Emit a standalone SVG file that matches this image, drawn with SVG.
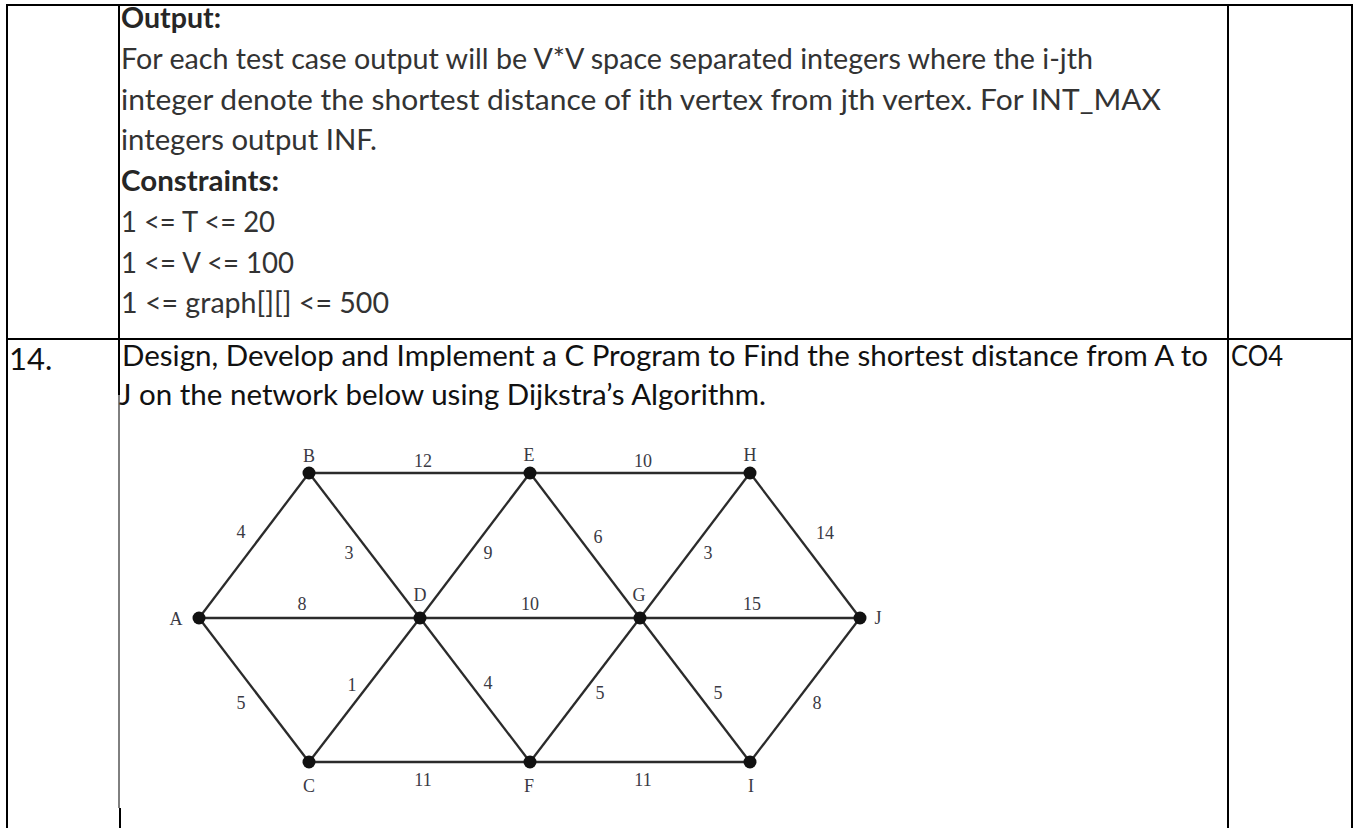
<svg xmlns="http://www.w3.org/2000/svg" width="1356" height="828" viewBox="0 0 1356 828">
<style>
.t{font-family:Lato,"Liberation Sans",sans-serif;font-size:28px;fill:#333}
.t2{font-family:Lato,"Liberation Sans",sans-serif;font-size:28px;fill:#111}
.b{font-weight:bold;fill:#262626}
.lbl{font-family:"Liberation Serif","DejaVu Serif",serif;font-size:18px;fill:#3a3a44;text-anchor:middle}
.tl{stroke:#000;stroke-width:2;fill:none}
.e{stroke:#2b2b2b;stroke-width:2.3;fill:none}
.n{fill:#111}
</style>
<rect width="1356" height="828" fill="#fff"/>
<g id="table">
<line class="tl" x1="6" y1="5" x2="1353" y2="5"/>
<line class="tl" x1="7" y1="4" x2="7" y2="828"/>
<line class="tl" x1="119" y1="4" x2="119" y2="395"/>
<line x1="119" y1="395" x2="119" y2="808" stroke="#000" stroke-width="1"/>
<line class="tl" x1="120" y1="808" x2="120" y2="828"/>
<line class="tl" x1="1228" y1="4" x2="1228" y2="828"/>
<line class="tl" x1="1352" y1="4" x2="1352" y2="828"/>
<line class="tl" x1="6" y1="339" x2="1353" y2="339"/>
</g>
<g id="text-row1">
<text class="t b" x="121" y="28" textLength="100" lengthAdjust="spacingAndGlyphs">Output:</text>
<text class="t" x="121" y="69" textLength="972" lengthAdjust="spacingAndGlyphs">For each test case output will be V*V space separated integers where the i-jth</text>
<text class="t" x="121" y="110" textLength="1040" lengthAdjust="spacingAndGlyphs">integer denote the shortest distance of ith vertex from jth vertex. For INT_MAX</text>
<text class="t" x="121" y="150" textLength="256" lengthAdjust="spacingAndGlyphs">integers output INF.</text>
<text class="t b" x="121" y="191" textLength="158" lengthAdjust="spacingAndGlyphs">Constraints:</text>
<text class="t" x="121" y="232" textLength="154" lengthAdjust="spacingAndGlyphs">1 &lt;= T &lt;= 20</text>
<text class="t" x="121" y="273" textLength="173" lengthAdjust="spacingAndGlyphs">1 &lt;= V &lt;= 100</text>
<text class="t" x="121" y="313" textLength="268" lengthAdjust="spacingAndGlyphs">1 &lt;= graph[][] &lt;= 500</text>
</g>
<g id="text-row2">
<text class="t2" x="9" y="370" style="font-size:31px">14.</text>
<text class="t2" x="122" y="366" textLength="1086" lengthAdjust="spacingAndGlyphs">Design, Develop and Implement a C Program to Find the shortest distance from A to</text>
<text class="t2" x="119" y="405" textLength="647" lengthAdjust="spacingAndGlyphs">J on the network below using Dijkstra’s Algorithm.</text>
<text class="t2" x="1231" y="366" textLength="52" lengthAdjust="spacingAndGlyphs">CO4</text>
</g>
<g id="connectors">
<line class="e" x1="199" y1="618" x2="309" y2="473"/>
<line class="e" x1="199" y1="618" x2="420" y2="618"/>
<line class="e" x1="199" y1="618" x2="309" y2="762"/>
<line class="e" x1="309" y1="473" x2="530" y2="473"/>
<line class="e" x1="309" y1="473" x2="420" y2="618"/>
<line class="e" x1="420" y1="618" x2="530" y2="473"/>
<line class="e" x1="420" y1="618" x2="640" y2="618"/>
<line class="e" x1="420" y1="618" x2="309" y2="762"/>
<line class="e" x1="420" y1="618" x2="530" y2="762"/>
<line class="e" x1="530" y1="473" x2="750" y2="473"/>
<line class="e" x1="530" y1="473" x2="640" y2="618"/>
<line class="e" x1="640" y1="618" x2="750" y2="473"/>
<line class="e" x1="640" y1="618" x2="860" y2="618"/>
<line class="e" x1="640" y1="618" x2="530" y2="762"/>
<line class="e" x1="640" y1="618" x2="750" y2="762"/>
<line class="e" x1="750" y1="473" x2="860" y2="618"/>
<line class="e" x1="309" y1="762" x2="530" y2="762"/>
<line class="e" x1="530" y1="762" x2="750" y2="762"/>
<line class="e" x1="750" y1="762" x2="860" y2="618"/>
<text class="lbl" x="241" y="538">4</text>
<text class="lbl" x="302" y="610">8</text>
<text class="lbl" x="241" y="709">5</text>
<text class="lbl" x="423" y="467">12</text>
<text class="lbl" x="349" y="559">3</text>
<text class="lbl" x="488" y="559">9</text>
<text class="lbl" x="530" y="610">10</text>
<text class="lbl" x="352" y="691">1</text>
<text class="lbl" x="488" y="689">4</text>
<text class="lbl" x="643" y="467">10</text>
<text class="lbl" x="598" y="543">6</text>
<text class="lbl" x="708" y="559">3</text>
<text class="lbl" x="752" y="610">15</text>
<text class="lbl" x="600" y="699">5</text>
<text class="lbl" x="718" y="699">5</text>
<text class="lbl" x="825" y="539">14</text>
<text class="lbl" x="423" y="786">11</text>
<text class="lbl" x="643" y="786">11</text>
<text class="lbl" x="817" y="709">8</text>
</g>
<g id="node-A"><circle class="n" cx="199" cy="618" r="6.5"/><text class="lbl" x="176" y="625">A</text></g>
<g id="node-B"><circle class="n" cx="309" cy="473" r="6.5"/><text class="lbl" x="309" y="462">B</text></g>
<g id="node-C"><circle class="n" cx="309" cy="762" r="6.5"/><text class="lbl" x="309" y="792">C</text></g>
<g id="node-D"><circle class="n" cx="420" cy="618" r="6.5"/><text class="lbl" x="420" y="601">D</text></g>
<g id="node-E"><circle class="n" cx="530" cy="473" r="6.5"/><text class="lbl" x="529" y="461">E</text></g>
<g id="node-F"><circle class="n" cx="530" cy="762" r="6.5"/><text class="lbl" x="529" y="792">F</text></g>
<g id="node-G"><circle class="n" cx="640" cy="618" r="6.5"/><text class="lbl" x="639" y="601">G</text></g>
<g id="node-H"><circle class="n" cx="750" cy="473" r="6.5"/><text class="lbl" x="750" y="461">H</text></g>
<g id="node-I"><circle class="n" cx="750" cy="762" r="6.5"/><text class="lbl" x="751" y="792">I</text></g>
<g id="node-J"><circle class="n" cx="860" cy="618" r="6.5"/><text class="lbl" x="878" y="624">J</text></g>
</svg>
